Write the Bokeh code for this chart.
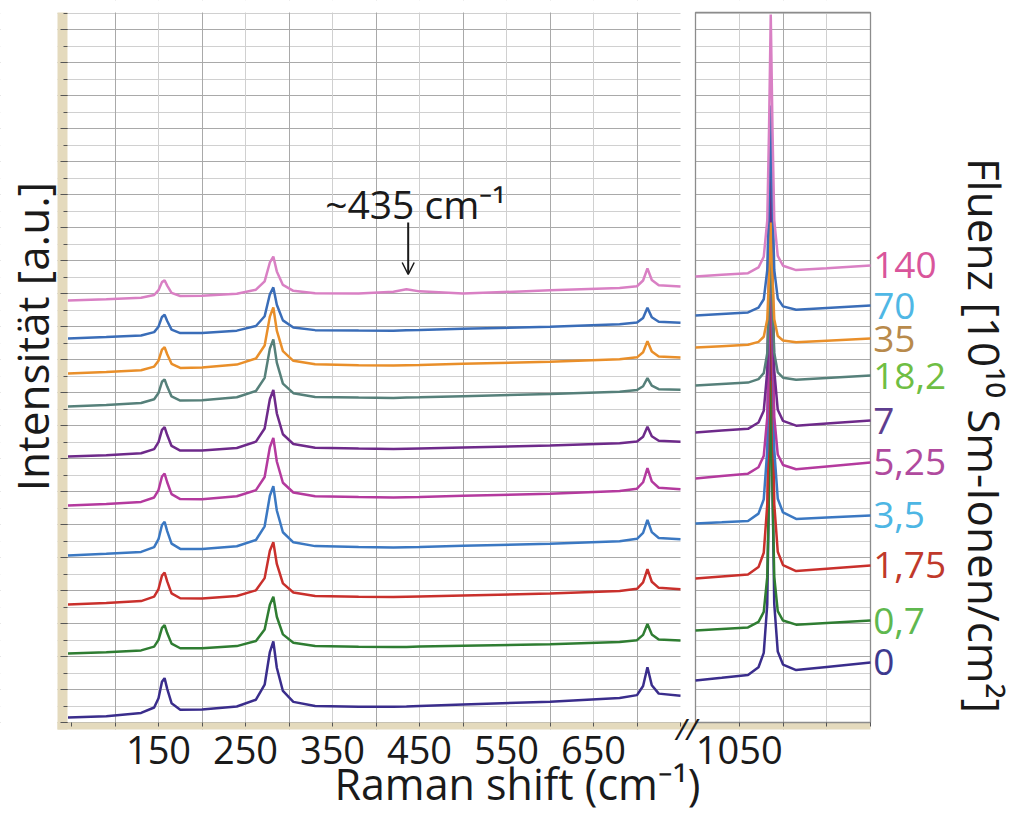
import math
from bokeh.plotting import figure
from bokeh.models import (Range1d, FixedTicker, SingleIntervalTicker, Grid, Label, LinearAxis,
                          LabelSet, ColumnDataSource, Arrow, OpenHead)
from bokeh.core.properties import value
from bokeh.embed import file_html
from bokeh.resources import INLINE

# ---------------- data ----------------
X_LEFT = [46, 90, 130, 145, 150, 154, 157, 160, 165, 175, 200, 240, 262, 272, 278, 282,
          286, 293, 305, 330, 380, 420, 435, 450, 500, 600, 680, 700, 707, 712, 717, 725, 750]
X_RIGHT = [1000, 1030, 1060, 1072, 1078, 1082, 1084, 1086, 1088, 1090, 1094, 1100, 1115, 1150, 1200]

FLUENCE = ["0", "0,7", "1,75", "3,5", "5,25", "7", "18,2", "35", "70", "140"]

left_f0 = [0.30, 0.38, 0.58, 0.91, 1.47, 2.47, 2.69, 2.04, 1.17, 0.78, 0.79, 0.97, 1.38, 2.29, 4.27, 4.91,
           3.32, 1.91, 1.25, 1.00, 0.96, 0.95, 0.97, 1.00, 1.09, 1.26, 1.48, 1.66, 2.21, 3.35, 2.26, 1.75, 1.62]
left_f0_7 = [4.18, 4.26, 4.37, 4.60, 5.01, 5.73, 5.90, 5.42, 4.78, 4.50, 4.50, 4.63, 4.94, 5.63, 7.14, 7.62,
             6.41, 5.34, 4.83, 4.63, 4.59, 4.57, 4.58, 4.60, 4.65, 4.75, 4.88, 4.99, 5.31, 5.97, 5.34, 5.03, 4.97]
left_f1_75 = [7.15, 7.24, 7.36, 7.63, 8.09, 8.90, 9.08, 8.55, 7.83, 7.53, 7.52, 7.67, 8.01, 8.75, 10.41, 10.93,
              9.61, 8.43, 7.88, 7.67, 7.62, 7.60, 7.62, 7.64, 7.70, 7.82, 7.97, 8.10, 8.49, 9.30, 8.53, 8.16, 8.07]
left_f3_5 = [10.12, 10.22, 10.34, 10.63, 11.11, 11.97, 12.16, 11.60, 10.84, 10.52, 10.52, 10.68, 11.06, 11.89, 13.74, 14.32,
             12.85, 11.53, 10.92, 10.69, 10.63, 10.60, 10.62, 10.64, 10.71, 10.84, 10.99, 11.13, 11.49, 12.28, 11.54, 11.18, 11.10]
left_f5_25 = [13.15, 13.25, 13.37, 13.64, 14.09, 14.91, 15.09, 14.56, 13.84, 13.54, 13.53, 13.71, 14.08, 14.88, 16.68, 17.25,
              15.82, 14.53, 13.94, 13.71, 13.66, 13.63, 13.65, 13.67, 13.74, 13.87, 14.03, 14.17, 14.56, 15.41, 14.61, 14.23, 14.13]
left_f7 = [16.12, 16.20, 16.32, 16.57, 16.99, 17.74, 17.90, 17.42, 16.76, 16.48, 16.49, 16.64, 17.02, 17.82, 19.59, 20.15,
           18.74, 17.47, 16.88, 16.65, 16.60, 16.57, 16.59, 16.61, 16.67, 16.79, 16.93, 17.03, 17.32, 17.92, 17.35, 17.08, 17.02]
left_f18_2 = [19.15, 19.24, 19.36, 19.59, 19.97, 20.65, 20.80, 20.36, 19.76, 19.51, 19.53, 19.71, 20.09, 20.89, 22.66, 23.22,
              21.81, 20.54, 19.96, 19.73, 19.69, 19.67, 19.69, 19.71, 19.78, 19.91, 20.05, 20.15, 20.38, 20.87, 20.41, 20.20, 20.16]
left_f35 = [21.15, 21.24, 21.35, 21.57, 21.93, 22.60, 22.74, 22.32, 21.74, 21.49, 21.52, 21.69, 22.06, 22.85, 24.60, 25.15,
            23.75, 22.51, 21.92, 21.71, 21.65, 21.63, 21.65, 21.67, 21.74, 21.87, 22.01, 22.13, 22.44, 23.11, 22.48, 22.18, 22.12]
left_f70 = [23.27, 23.36, 23.46, 23.66, 23.99, 24.58, 24.71, 24.33, 23.81, 23.60, 23.60, 23.75, 24.03, 24.62, 25.95, 26.37,
            25.32, 24.37, 23.94, 23.78, 23.76, 23.75, 23.77, 23.79, 23.86, 23.99, 24.13, 24.24, 24.52, 25.13, 24.56, 24.29, 24.23]
left_f140 = [25.58, 25.65, 25.74, 25.91, 26.20, 26.69, 26.80, 26.48, 26.04, 25.85, 25.86, 25.99, 26.23, 26.74, 27.88, 28.24,
             27.34, 26.52, 26.16, 26.01, 26.00, 26.11, 26.26, 26.13, 26.00, 26.19, 26.33, 26.44, 26.79, 27.52, 26.82, 26.50, 26.42]

right_f0 = [2.55, 2.71, 2.88, 3.35, 4.22, 7.15, 14.42, 23.76, 14.44, 7.19, 4.30, 3.51, 3.18, 3.37, 3.64]
right_f0_7 = [5.58, 5.67, 5.76, 6.10, 6.70, 8.81, 14.02, 20.73, 14.03, 8.83, 6.75, 6.18, 5.93, 6.03, 6.18]
right_f1_75 = [8.73, 8.85, 8.97, 9.42, 10.29, 13.20, 20.47, 29.82, 20.49, 13.24, 10.35, 9.54, 9.18, 9.32, 9.52]
right_f3_5 = [12.06, 12.13, 12.21, 12.66, 13.52, 16.50, 23.92, 33.45, 23.93, 16.52, 13.56, 12.73, 12.34, 12.43, 12.55]
right_f5_25 = [14.79, 14.94, 15.08, 15.47, 16.16, 18.48, 24.24, 31.64, 24.26, 18.52, 16.24, 15.61, 15.35, 15.52, 15.76]
right_f7 = [17.58, 17.69, 17.80, 18.18, 18.89, 21.30, 27.29, 35.00, 27.31, 21.32, 18.95, 18.28, 17.99, 18.12, 18.30]
right_f18_2 = [20.42, 20.51, 20.60, 20.81, 21.17, 22.38, 25.37, 29.21, 25.38, 22.40, 21.22, 20.90, 20.77, 20.88, 21.03]
right_f35 = [22.73, 22.81, 22.89, 23.07, 23.38, 24.42, 27.00, 30.30, 27.01, 24.44, 23.42, 23.15, 23.04, 23.14, 23.27]
right_f70 = [24.67, 24.76, 24.85, 25.14, 25.65, 27.41, 31.78, 37.40, 31.79, 27.43, 25.70, 25.22, 25.02, 25.12, 25.27]
right_f140 = [27.03, 27.13, 27.23, 27.58, 28.23, 30.42, 35.88, 42.91, 35.89, 30.45, 28.28, 27.68, 27.42, 27.53, 27.70]

LEFT_SERIES = [left_f0, left_f0_7, left_f1_75, left_f3_5, left_f5_25, left_f7, left_f18_2, left_f35, left_f70, left_f140]
RIGHT_SERIES = [right_f0, right_f0_7, right_f1_75, right_f3_5, right_f5_25, right_f7, right_f18_2, right_f35, right_f70, right_f140]

LINE_COLORS = ["#3a2d8c", "#2f7d32", "#c9302c", "#3b78c2", "#b43a9e",
               "#6e2a8a", "#56807a", "#e98f2a", "#3a6db8", "#d980c4"]
LABEL_COLORS = ["#3d3a8f", "#5fb84f", "#c0392b", "#4db6e4", "#b04a9e",
                "#5e3e8f", "#6fbe44", "#b88a4c", "#4fb7e5", "#d9559b"]

LEFT_TICKS = list(range(50, 751, 50))
LEFT_TICK_LABELS = [150, 250, 350, 450, 550, 650]
RIGHT_TICKS = [1050, 1100, 1150, 1200]
RIGHT_TICK_LABELS = [1050]

# ---------------- layout ----------------
FONT = "Open Sans"
BEIGE = "#e4dabd"
GRID_DARK = "#a9a9a9"
GRID_LIGHT = "#d0d0d0"
INK = "#1a1a1a"

# the frame fills the whole canvas; panel edges in data units
LX0, LX1 = -31.61, 1145.40        # left-panel x units across the canvas
RX0, RX1 = 205.71, 1376.00        # right-panel x units across the canvas
Y0, Y1 = -5.697, 43.758
L_STRIP, L_EDGE, L_END, GAP_END, R_EDGE = 33.91, 45.40, 750.0, 767.24, 968.39
Y_TOP, Y_STRIP = 43.03, -0.424

p = figure(width=1024, height=816, x_range=Range1d(LX0, LX1), y_range=Range1d(Y0, Y1),
           x_axis_type=None, y_axis_type=None, output_backend="svg", toolbar_location=None,
           min_border=0, outline_line_color=None,
           background_fill_color="white", border_fill_color="white")
p.extra_x_ranges = {"right": Range1d(RX0, RX1)}

# grids
p.add_layout(Grid(dimension=1, ticker=SingleIntervalTicker(interval=2, num_minor_ticks=2),
                  grid_line_color=GRID_DARK, minor_grid_line_color=GRID_LIGHT))
p.add_layout(Grid(dimension=0, ticker=FixedTicker(ticks=list(range(100, 701, 100)),
                                                  minor_ticks=list(range(150, 651, 100))),
                  grid_line_color=GRID_DARK, minor_grid_line_color=GRID_LIGHT))
p.add_layout(Grid(dimension=0, x_range_name="right",
                  ticker=FixedTicker(ticks=[1100], minor_ticks=[1050, 1150]),
                  grid_line_color=GRID_DARK, minor_grid_line_color=GRID_LIGHT))

# white masks outside the two panels
mask = dict(fill_color="white", line_color=None)
p.quad(left=LX0, right=L_STRIP, bottom=Y0, top=Y1, **mask)
p.quad(left=LX0, right=LX1, bottom=Y_TOP, top=Y1, **mask)
p.quad(left=LX0, right=LX1, bottom=Y0, top=Y_STRIP, **mask)
p.quad(left=R_EDGE, right=LX1, bottom=Y0, top=Y1, **mask)
p.quad(left=L_END, right=GAP_END, bottom=0, top=Y_TOP, **mask)

# beige axis strips and right-panel outline
p.quad(left=L_STRIP, right=L_EDGE, bottom=Y_STRIP, top=Y_TOP, fill_color=BEIGE, line_color=None)
p.quad(left=L_STRIP, right=R_EDGE, bottom=Y_STRIP, top=0, fill_color=BEIGE, line_color=None)
p.quad(left=X_RIGHT[0], right=X_RIGHT[-1], bottom=0, top=Y_TOP, fill_color=None,
       line_color="#8c8c8c", line_width=1.3, x_range_name="right")

# spectra
for ys, c in zip(LEFT_SERIES, LINE_COLORS):
    p.line(X_LEFT, ys, line_color=c, line_width=2.5)
for ys, c in zip(RIGHT_SERIES, LINE_COLORS):
    p.line(X_RIGHT, ys, line_color=c, line_width=2.5, x_range_name="right")


def x_axis(ticks, labelled, rng=None):
    kw = {} if rng is None else {"x_range_name": rng}
    ax = LinearAxis(fixed_location=0, ticker=FixedTicker(ticks=ticks),
                    major_label_overrides={t: (str(t) if t in labelled else "") for t in ticks},
                    axis_line_color=None, major_tick_in=0, major_tick_out=4,
                    major_tick_line_color="#555555", minor_tick_line_color=None,
                    major_label_text_font=FONT, major_label_text_font_size="38px",
                    major_label_text_color=INK, major_label_standoff=9, **kw)
    p.add_layout(ax, "below")


x_axis(LEFT_TICKS, LEFT_TICK_LABELS)
x_axis(RIGHT_TICKS, RIGHT_TICK_LABELS, "right")

ya = LinearAxis(fixed_location=L_EDGE, bounds=(0, Y_TOP),
                ticker=SingleIntervalTicker(interval=2, num_minor_ticks=2),
                major_label_overrides={k: "" for k in range(0, 44, 2)},
                axis_line_color=None, major_tick_in=0, major_tick_out=7,
                minor_tick_in=0, minor_tick_out=4,
                major_tick_line_color="#555555", minor_tick_line_color="#555555")
p.add_layout(ya, "left")

# titles
p.add_layout(Label(x=5.17, y=23.39, text="Intensität [a.u.]", angle=math.pi / 2,
                   text_align="center", text_baseline="middle", text_font=FONT,
                   text_font_size="44px", text_color=INK))
p.add_layout(Label(x=562.6, y=-3.70, text="Raman shift (cm⁻¹)",
                   text_align="center", text_baseline="middle", text_font=FONT,
                   text_font_size="43px", text_color=INK))
p.add_layout(Label(x=1331.4, y=17.39, x_range_name="right", text="Fluenz [10¹⁰ Sm-Ionen/cm²]",
                   angle=-math.pi / 2, text_align="center", text_baseline="middle",
                   text_font=FONT, text_font_size="44px", text_color=INK))

# annotation ~435
p.add_layout(Label(x=445.4, y=31.45, text="~435 cm⁻¹", text_align="center",
                   text_baseline="middle", text_font=FONT, text_font_size="39px",
                   text_color=INK))
p.add_layout(Arrow(x_start=437, y_start=30.3, x_end=437, y_end=27.15, line_width=2,
                   line_color=INK, end=OpenHead(size=12, line_width=1.5, line_color=INK)))

# axis break marks
p.add_layout(Label(x=756.9, y=-0.36, text="//", text_align="center", text_baseline="middle",
                   text_font=FONT, text_font_size="30px", text_font_style="italic",
                   text_color=INK))

# fluence labels at the end of each series
src = ColumnDataSource(dict(y=[s[-1] for s in RIGHT_SERIES], text=FLUENCE, color=LABEL_COLORS))
p.add_layout(LabelSet(x=1203, y="y", text="text", text_color="color", source=src,
                      x_range_name="right", text_align="left", text_baseline="middle",
                      text_font=value(FONT), text_font_size="37px"))

open("out.html", "w").write(file_html(p, INLINE))
